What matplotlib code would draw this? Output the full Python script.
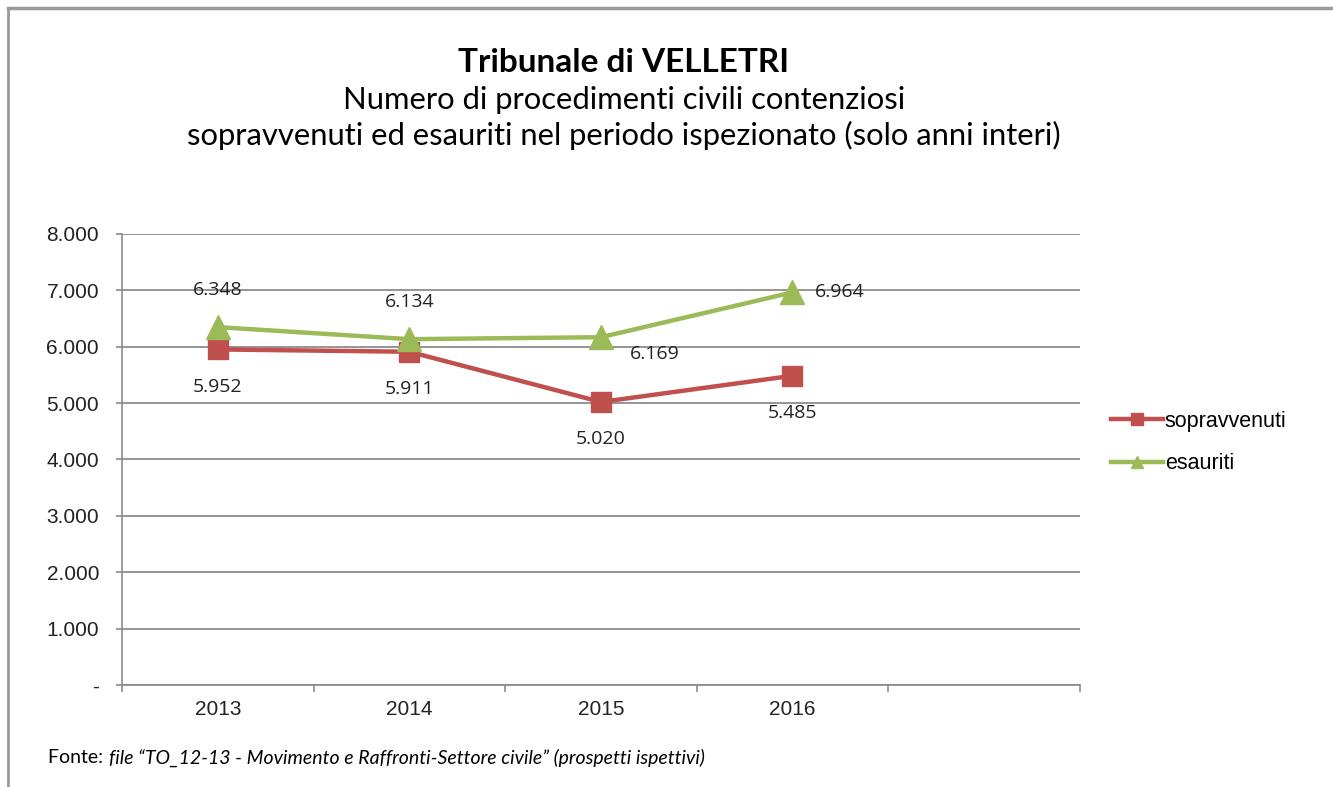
import matplotlib.pyplot as plt
from matplotlib.lines import Line2D
from matplotlib.ticker import FuncFormatter, FixedLocator

years = ["2013", "2014", "2015", "2016", ""]
sopravvenuti = [5952, 5911, 5020, 5485]
esauriti = [6348, 6134, 6169, 6964]
yticks = [0, 1000, 2000, 3000, 4000, 5000, 6000, 7000, 8000]

# label offsets in points (dx, dy) per point, as placed in the original
sop_offsets = [(0, -27), (0, -27), (0, -27), (0, -27)]
esa_offsets = [(0, 27), (0, 27), (39, -12), (34, 0)]

RED = "#C0504D"
GREEN = "#9BBB59"


def it_fmt(v, pos):
    if v == 0:
        return "-"
    return f"{int(v):,}".replace(",", ".")


fig = plt.figure(figsize=(13.33, 7.87), dpi=100)
ax = fig.add_axes([0.0915, 0.1296, 0.7186, 0.5731])

x = list(range(len(sopravvenuti)))
ax.plot(x, sopravvenuti, color=RED, lw=3.2, marker="s", ms=15, zorder=3)
ax.plot(x, esauriti, color=GREEN, lw=3.2, marker="^", ms=17, zorder=3)

for xi, v, (dx, dy) in zip(x, sopravvenuti, sop_offsets):
    ax.annotate(it_fmt(v, None), (xi, v), xytext=(dx, dy), textcoords="offset points",
                ha="center", va="center", fontsize=14, family="Open Sans", color="#222222")
for xi, v, (dx, dy) in zip(x, esauriti, esa_offsets):
    ax.annotate(it_fmt(v, None), (xi, v), xytext=(dx, dy), textcoords="offset points",
                ha="center", va="center", fontsize=14, family="Open Sans", color="#222222")

ax.set_xlim(-0.5, len(years) - 0.5)
ax.set_ylim(0, 8000)
ax.set_yticks(yticks)
ax.yaxis.set_major_formatter(FuncFormatter(it_fmt))
ax.grid(axis="y", color="#8c8c8c", lw=1.3)
ax.set_axisbelow(True)

ax.set_xticks(range(len(years)))
ax.set_xticklabels(years)
ax.xaxis.set_minor_locator(FixedLocator([i - 0.5 for i in range(len(years) + 1)]))
ax.tick_params(axis="x", which="major", length=0, pad=11, labelsize=15)
ax.tick_params(axis="x", which="minor", length=5, color="#8c8c8c", width=1.2, direction="out")
ax.tick_params(axis="y", length=4.5, color="#8c8c8c", width=1.2, pad=12, labelsize=15)
for lab in ax.get_xticklabels() + ax.get_yticklabels():
    lab.set_family("Liberation Sans")
    lab.set_color("#222222")

for s in ["top", "right"]:
    ax.spines[s].set_visible(False)
ax.spines["left"].set_color("#8c8c8c")
ax.spines["bottom"].set_color("#8c8c8c")
ax.spines["left"].set_linewidth(1.2)
ax.spines["bottom"].set_linewidth(1.3)

handles = [
    Line2D([], [], color=RED, lw=3.2, marker="s", ms=9),
    Line2D([], [], color=GREEN, lw=3.2, marker="^", ms=9),
]
leg = fig.legend(handles, ["sopravvenuti", "esauriti"], loc="center left",
                 bbox_to_anchor=(0.819, 0.438), frameon=False, handlelength=2.4,
                 handletextpad=0.1, labelspacing=1.0,
                 prop={"family": "Liberation Sans", "size": 15.5})

fig.text(0.468, 0.921, "Tribunale di VELLETRI", ha="center", va="center",
         fontsize=24, fontweight="bold", family="Lato")
fig.text(0.468, 0.873, "Numero di procedimenti civili contenziosi", ha="center",
         va="center", fontsize=22.3, family="Lato")
fig.text(0.468, 0.828, "sopravvenuti ed esauriti nel periodo ispezionato (solo anni interi)",
         ha="center", va="center", fontsize=22.3, family="Lato")

fig.text(0.036, 0.037, "Fonte: ", ha="left", va="center", fontsize=14, family="Lato")
fig.text(0.0815, 0.037, "file \u201cTO_12-13 - Movimento e Raffronti-Settore civile\u201d (prospetti ispettivi)",
         ha="left", va="center", fontsize=14, family="Lato", style="italic")

# frame lines (top and left edges of the original chart box)
fig.add_artist(Line2D([0.006, 1.0], [0.99, 0.99], color="#9a9a9a", lw=2.5, transform=fig.transFigure))
fig.add_artist(Line2D([0.006, 0.006], [0.0, 0.99], color="#9a9a9a", lw=2.0, transform=fig.transFigure))

fig.savefig("out.png", dpi=100)
